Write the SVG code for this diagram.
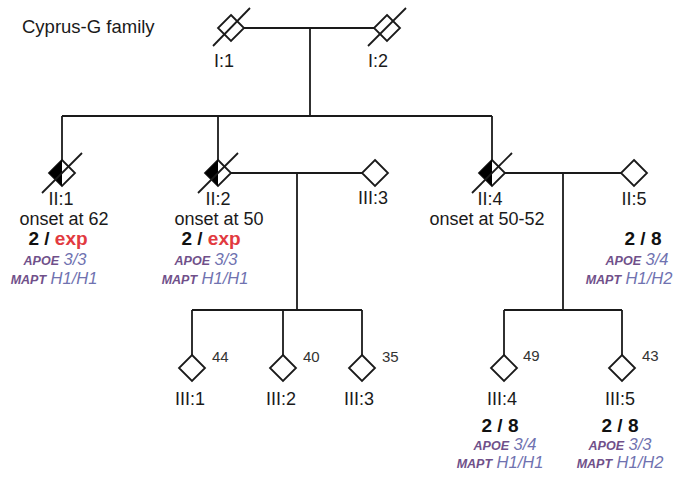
<svg xmlns="http://www.w3.org/2000/svg" width="679" height="481" viewBox="0 0 679 481">
<defs>
<style>
.ln{stroke:#1a1a1a;stroke-width:1.8;fill:none}
.dm{stroke:#1a1a1a;stroke-width:1.8;fill:#fff}
.hf{fill:#000;stroke:none}
.t{font-family:"Liberation Sans",Arial,sans-serif;fill:#1a1a1a;font-size:18px}
.c{text-anchor:middle}
.age{font-family:"Liberation Sans",Arial,sans-serif;fill:#333;font-size:15px}
.b{font-family:"Liberation Sans",Arial,sans-serif;font-weight:bold;font-size:19px;text-anchor:middle;fill:#111}
.red{fill:#e23a40}
.g{font-family:"Liberation Sans",Arial,sans-serif;text-anchor:middle;font-style:italic}
.gn{font-weight:bold;font-size:12.5px;fill:#70508a}
.gv{font-size:16.5px;fill:#6f72b0}
</style>
<path id="dia" d="M0,-13 L13,0 L0,13 L-13,0 Z"/>
<path id="half" d="M0,-13 L-13,0 L0,13 Z"/>
</defs>
<rect width="679" height="481" fill="#fff"/>
<text class="t" x="22" y="33" style="font-size:18.5px">Cyprus-G family</text>
<g id="connectors">
<line class="ln" x1="244" y1="28" x2="374" y2="28"/>
<line class="ln" x1="310" y1="28" x2="310" y2="116"/>
<line class="ln" x1="62" y1="116" x2="492" y2="116"/>
<line class="ln" x1="62" y1="116" x2="62" y2="160"/>
<line class="ln" x1="218" y1="116" x2="218" y2="160"/>
<line class="ln" x1="492" y1="116" x2="492" y2="160"/>
<line class="ln" x1="231" y1="173" x2="362" y2="173"/>
<line class="ln" x1="297" y1="173" x2="297" y2="310"/>
<line class="ln" x1="192" y1="310" x2="362" y2="310"/>
<line class="ln" x1="192" y1="310" x2="192" y2="355"/>
<line class="ln" x1="283" y1="310" x2="283" y2="355"/>
<line class="ln" x1="362" y1="310" x2="362" y2="355"/>
<line class="ln" x1="505" y1="173" x2="621" y2="173"/>
<line class="ln" x1="563" y1="173" x2="563" y2="310"/>
<line class="ln" x1="504" y1="310" x2="622" y2="310"/>
<line class="ln" x1="504" y1="310" x2="504" y2="355"/>
<line class="ln" x1="622" y1="310" x2="622" y2="355"/>
</g>
<g id="I1">
<use href="#dia" class="dm" x="231" y="28"/>
<line class="ln" x1="213" y1="46" x2="250" y2="8"/>
<text class="t c" x="224" y="67">I:1</text>
</g>
<g id="I2">
<use href="#dia" class="dm" x="387" y="28"/>
<line class="ln" x1="368" y1="46" x2="406" y2="8"/>
<text class="t c" x="378" y="67">I:2</text>
</g>
<g id="II1">
<use href="#dia" class="dm" x="62" y="173"/>
<use href="#half" class="hf" x="62" y="173"/>
<line class="ln" x1="42" y1="193" x2="82" y2="153"/>
<text class="t c" x="61" y="205">II:1</text>
<text class="t c" x="64" y="225">onset at 62</text>
<text class="b" x="58" y="245">2 / <tspan class="red">exp</tspan></text>
<text class="g" x="55" y="265"><tspan class="gn">APOE</tspan> <tspan class="gv">3/3</tspan></text>
<text class="g" x="54" y="284"><tspan class="gn">MAPT</tspan> <tspan class="gv">H1/H1</tspan></text>
</g>
<g id="II2">
<use href="#dia" class="dm" x="218" y="173"/>
<use href="#half" class="hf" x="218" y="173"/>
<line class="ln" x1="198" y1="193" x2="238" y2="153"/>
<text class="t c" x="218" y="205">II:2</text>
<text class="t c" x="219" y="225">onset at 50</text>
<text class="b" x="211" y="245">2 / <tspan class="red">exp</tspan></text>
<text class="g" x="206" y="265"><tspan class="gn">APOE</tspan> <tspan class="gv">3/3</tspan></text>
<text class="g" x="205" y="284"><tspan class="gn">MAPT</tspan> <tspan class="gv">H1/H1</tspan></text>
</g>
<g id="II3">
<use href="#dia" class="dm" x="375" y="173"/>
<text class="t c" x="373" y="204">III:3</text>
</g>
<g id="II4">
<use href="#dia" class="dm" x="492" y="173"/>
<use href="#half" class="hf" x="492" y="173"/>
<line class="ln" x1="472" y1="193" x2="512" y2="153"/>
<text class="t c" x="490" y="205">II:4</text>
<text class="t c" x="487" y="225">onset at 50-52</text>
</g>
<g id="II5">
<use href="#dia" class="dm" x="634" y="173"/>
<text class="t c" x="634" y="205">II:5</text>
<text class="b" x="643" y="245">2 / 8</text>
<text class="g" x="637" y="265"><tspan class="gn">APOE</tspan> <tspan class="gv">3/4</tspan></text>
<text class="g" x="629" y="284"><tspan class="gn">MAPT</tspan> <tspan class="gv">H1/H2</tspan></text>
</g>
<g id="III1">
<use href="#dia" class="dm" x="192" y="368"/>
<text class="age" x="212" y="362">44</text>
<text class="t c" x="190" y="405">III:1</text>
</g>
<g id="III2">
<use href="#dia" class="dm" x="283" y="368"/>
<text class="age" x="303" y="362">40</text>
<text class="t c" x="281" y="405">III:2</text>
</g>
<g id="III3">
<use href="#dia" class="dm" x="362" y="368"/>
<text class="age" x="382" y="362">35</text>
<text class="t c" x="359" y="405">III:3</text>
</g>
<g id="III4">
<use href="#dia" class="dm" x="504" y="368"/>
<text class="age" x="523" y="361">49</text>
<text class="t c" x="502" y="405">III:4</text>
<text class="b" x="500" y="432">2 / 8</text>
<text class="g" x="505" y="450"><tspan class="gn">APOE</tspan> <tspan class="gv">3/4</tspan></text>
<text class="g" x="500" y="468"><tspan class="gn">MAPT</tspan> <tspan class="gv">H1/H1</tspan></text>
</g>
<g id="III5">
<use href="#dia" class="dm" x="622" y="368"/>
<text class="age" x="642" y="361">43</text>
<text class="t c" x="620" y="405">III:5</text>
<text class="b" x="620" y="432">2 / 8</text>
<text class="g" x="620" y="450"><tspan class="gn">APOE</tspan> <tspan class="gv">3/3</tspan></text>
<text class="g" x="620" y="468"><tspan class="gn">MAPT</tspan> <tspan class="gv">H1/H2</tspan></text>
</g>
</svg>
